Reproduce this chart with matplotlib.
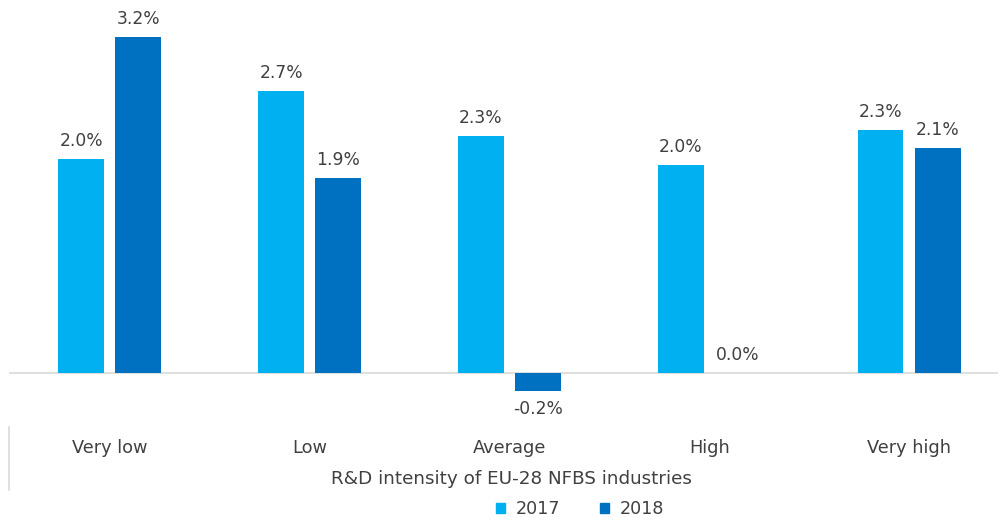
import matplotlib
matplotlib.use("Agg")
import matplotlib.pyplot as plt
from matplotlib.transforms import blended_transform_factory
from matplotlib.lines import Line2D
from matplotlib.patches import Patch
import numpy as np

categories = ["Very low", "Low", "Average", "High", "Very high"]
series_names = ["2017", "2018"]
values_2017 = [2.04, 2.69, 2.26, 1.98, 2.31]
values_2018 = [3.20, 1.86, -0.17, 0.00, 2.14]
labels_2017 = ["2.0%", "2.7%", "2.3%", "2.0%", "2.3%"]
labels_2018 = ["3.2%", "1.9%", "-0.2%", "0.0%", "2.1%"]
axis_title = "R&D intensity of EU-28 NFBS industries"

c17 = "#00B0F0"
c18 = "#0070C0"
tcol = "#404040"
plt.rcParams['font.family'] = ['DejaVu Sans']

W, H = 998, 523
fig = plt.figure(figsize=(W / 100, H / 100), dpi=100)
top_px, bot_px = 10, 420
ax = fig.add_axes([9 / W, (H - bot_px) / H, 1 - 9 / W, (bot_px - top_px) / H])
ppu = 105.0
zero_px = 373
ax.set_ylim(-(bot_px - zero_px) / ppu, (zero_px - top_px) / ppu)
ax.set_xlim(-0.505, -0.5 + 989 / 200)

x = np.arange(len(categories))
bw = 0.23
off = 0.143
ax.bar(x - off, values_2017, bw, color=c17, zorder=2)
ax.bar(x + off, values_2018, bw, color=c18, zorder=2)
ax.axhline(0, color="#d9d9d9", lw=1.2, zorder=1)

for spine in ax.spines.values():
    spine.set_visible(False)
ax.set_xticks([])
ax.set_yticks([])

fs = 12.3
pad = 18 / ppu
for xi, v, l in zip(x - off, values_2017, labels_2017):
    ax.text(xi, v + pad if v >= 0 else v - pad, l, ha="center", va="center",
            fontsize=fs, color=tcol, clip_on=False)
for xi, v, l in zip(x + off, values_2018, labels_2018):
    ax.text(xi, v + pad if v >= 0 else v - pad, l, ha="center", va="center",
            fontsize=fs, color=tcol, clip_on=False)

tr = blended_transform_factory(ax.transData, fig.transFigure)
for xi, c in zip(x, categories):
    ax.text(xi, 1 - 448 / H, c, transform=tr, ha="center", va="center",
            fontsize=12.8, color=tcol)

fig.text(511 / W, 1 - 479 / H, axis_title, ha="center", va="center",
         fontsize=13.2, color=tcol)

fig.add_artist(Line2D([8.5 / W, 8.5 / W], [1 - 427 / H, 1 - 490 / H],
                      color="#d9d9d9", lw=1.2, transform=fig.transFigure))

handles = [Patch(color=c17, label=series_names[0]), Patch(color=c18, label=series_names[1])]
fig.legend(handles=handles, loc="center", bbox_to_anchor=(580 / W, 1 - 509 / H),
           ncol=2, frameon=False, fontsize=12.6, handlelength=0.55, handleheight=0.55,
           handletextpad=0.6, columnspacing=2.25, labelcolor=tcol)

fig.savefig("out.png", dpi=100)
